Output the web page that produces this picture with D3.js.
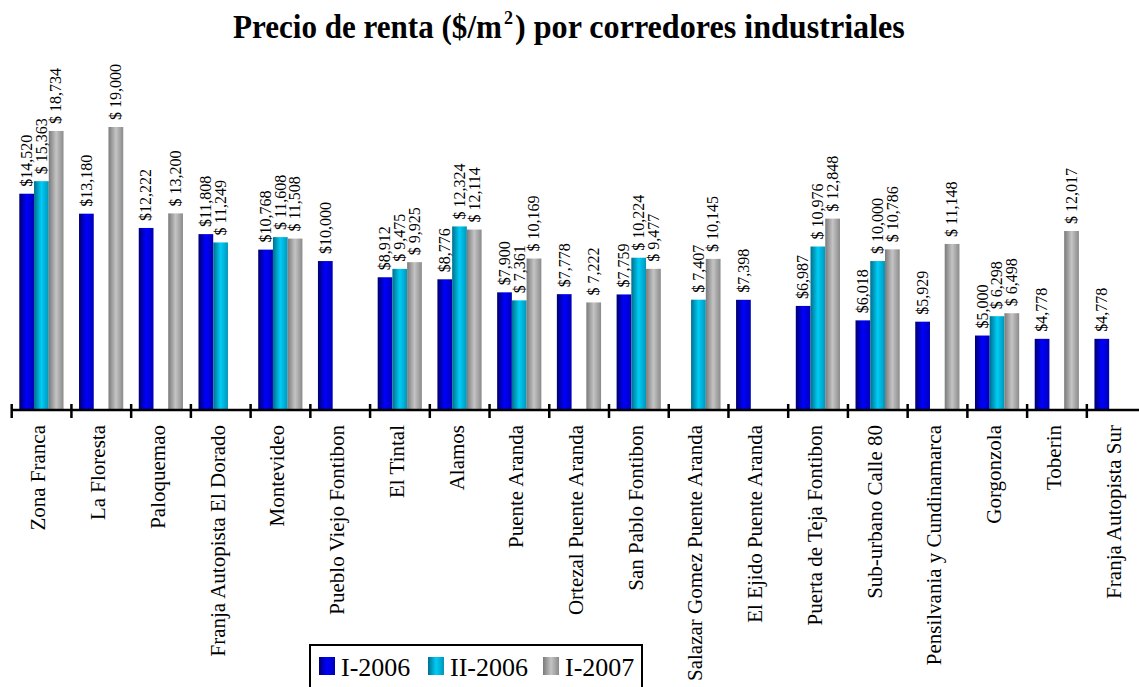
<!DOCTYPE html>
<html>
<head>
<meta charset="utf-8">
<script src="https://cdn.jsdelivr.net/npm/d3@7"></script>
<style>
  body { margin: 0; background: #fff; }
  svg { display: block; font-family: "Liberation Serif", "Times New Roman", serif; }
</style>
</head>
<body>
<div id="chart"></div>
<script>
// datos
var categorias = ["Zona Franca", "La Floresta", "Paloquemao", "Franja Autopista El Dorado", "Montevideo",
  "Pueblo Viejo Fontibon", "El Tintal", "Alamos", "Puente Aranda", "Ortezal Puente Aranda",
  "San Pablo Fontibon", "Salazar Gomez Puente Aranda", "El Ejido Puente Aranda", "Puerta de Teja Fontibon",
  "Sub-urbano Calle 80", "Pensilvania y Cundinamarca", "Gorgonzola", "Toberin", "Franja Autopista Sur"];
var series = ["I-2006", "II-2006", "I-2007"];
var prefijos = ["$", "$ ", "$ "];
var valI2006  = [14520, 13180, 12222, 11808, 10768, 10000, 8912, 8776, 7900, 7778, 7759, null, 7398, 6987, 6018, 5929, 5000, 4778, 4778];
var valII2006 = [15363, null, null, 11249, 11608, null, 9475, 12324, 7361, null, 10224, 7407, null, 10976, 10000, null, 6298, null, null];
var valI2007  = [18734, 19000, 13200, null, 11508, null, 9925, 12114, 10169, 7222, 9477, 10145, null, 12848, 10786, 11148, 6498, 12017, null];
var valores = [valI2006, valII2006, valI2007];

var W = 1139, H = 687;
var svg = d3.select("#chart").append("svg").attr("width", W).attr("height", H);

// gradientes tipo cilindro
var colores = [
  ["#00006e", "#0000ff", "#0000b4"],
  ["#006f8c", "#00ccf5", "#0096bb"],
  ["#7a7a7a", "#c4c4c4", "#8a8a8a"]
];
var defs = svg.append("defs");
colores.forEach(function(c, i){
  var g = defs.append("linearGradient").attr("id", "grad" + i)
    .attr("x1", "0%").attr("x2", "100%").attr("y1", "0%").attr("y2", "0%");
  g.append("stop").attr("offset", "0%").attr("stop-color", c[0]);
  g.append("stop").attr("offset", "50%").attr("stop-color", c[1]);
  g.append("stop").attr("offset", "100%").attr("stop-color", c[2]);
});

var x0 = d3.scaleBand().domain(categorias).range([11.7, 11.7 + 19 * 59.73]).padding(0);
var x1 = d3.scaleBand().domain(d3.range(series.length)).range([7.6, 51.8]).padding(0);
var y = d3.scaleLinear().domain([0, 19000]).range([410, 127]);

// titulo (en tres partes por el superindice), letra angosta con scale
function tituloParte(txt, x, ancho){
  var t = svg.append("text").attr("font-size", 34).attr("font-weight", "bold").text(txt);
  var k = ancho / t.node().getComputedTextLength();
  t.attr("transform", "translate(" + x + ",38) scale(" + k + ",1)");
}
tituloParte("Precio de renta ($/m", 233, 269);
svg.append("text")
  .attr("x", 504).attr("y", 24)
  .attr("font-size", 18).attr("font-weight", "bold")
  .text("2");
tituloParte(") por corredores industriales", 515, 390);

// barras
var grupos = svg.selectAll("g.cat")
  .data(categorias)
  .enter().append("g")
  .attr("class", "cat")
  .attr("transform", function(d){ return "translate(" + x0(d) + ",0)"; });

grupos.selectAll("rect")
  .data(function(d, i){ return valores.map(function(s, j){ return { s: j, v: s[i] }; }).filter(function(e){ return e.v != null; }); })
  .enter().append("rect")
  .attr("x", function(d){ return x1(d.s); })
  .attr("width", x1.bandwidth())
  .attr("y", function(d){ return y(d.v); })
  .attr("height", function(d){ return y(0) - y(d.v); })
  .attr("fill", function(d){ return "url(#grad" + d.s + ")"; });

grupos.selectAll("text.valor")
  .data(function(d, i){ return valores.map(function(s, j){ return { s: j, v: s[i] }; }).filter(function(e){ return e.v != null; }); })
  .enter().append("text")
  .attr("class", "valor")
  .attr("font-size", 16)
  .attr("text-anchor", "start")
  .attr("dy", "0.33em")
  .attr("transform", function(d){ return "translate(" + (x1(d.s) + x1.bandwidth() / 2) + "," + (y(d.v) - 7) + ") rotate(-90)"; })
  .text(function(d){ return prefijos[d.s] + d3.format(",")(d.v); });

// eje x
var eje = svg.append("g").attr("transform", "translate(0," + y(0) + ")");
eje.append("line").attr("x1", 11.7).attr("x2", W).attr("y1", 0).attr("y2", 0)
  .attr("stroke", "#000").attr("stroke-width", 2.5);
eje.selectAll("line.tick")
  .data(categorias)
  .enter().append("line")
  .attr("class", "tick")
  .attr("x1", function(d){ return x0(d); })
  .attr("x2", function(d){ return x0(d); })
  .attr("y1", -6).attr("y2", 8)
  .attr("stroke", "#000").attr("stroke-width", 2.5);

svg.selectAll("text.cat")
  .data(categorias)
  .enter().append("text")
  .attr("class", "cat")
  .attr("font-size", 21)
  .attr("text-anchor", "end")
  .attr("dy", "0.28em")
  .attr("transform", function(d){ return "translate(" + (x0(d) + x0.bandwidth() / 2 - 2) + ",425) rotate(-90)"; })
  .text(function(d){ return d; });

// leyenda
var ley = svg.append("g");
ley.append("rect").attr("x", 310).attr("y", 645).attr("width", 332).attr("height", 60)
  .attr("fill", "#fff").attr("stroke", "#000").attr("stroke-width", 2);
var posLey = [319, 428, 543];
series.forEach(function(s, i){
  ley.append("rect").attr("x", posLey[i]).attr("y", 657).attr("width", 16).attr("height", 18)
    .attr("fill", "url(#grad" + i + ")");
  ley.append("text").attr("x", posLey[i] + 22).attr("y", 676).attr("font-size", 26).text(s);
});
</script>
</body>
</html>
